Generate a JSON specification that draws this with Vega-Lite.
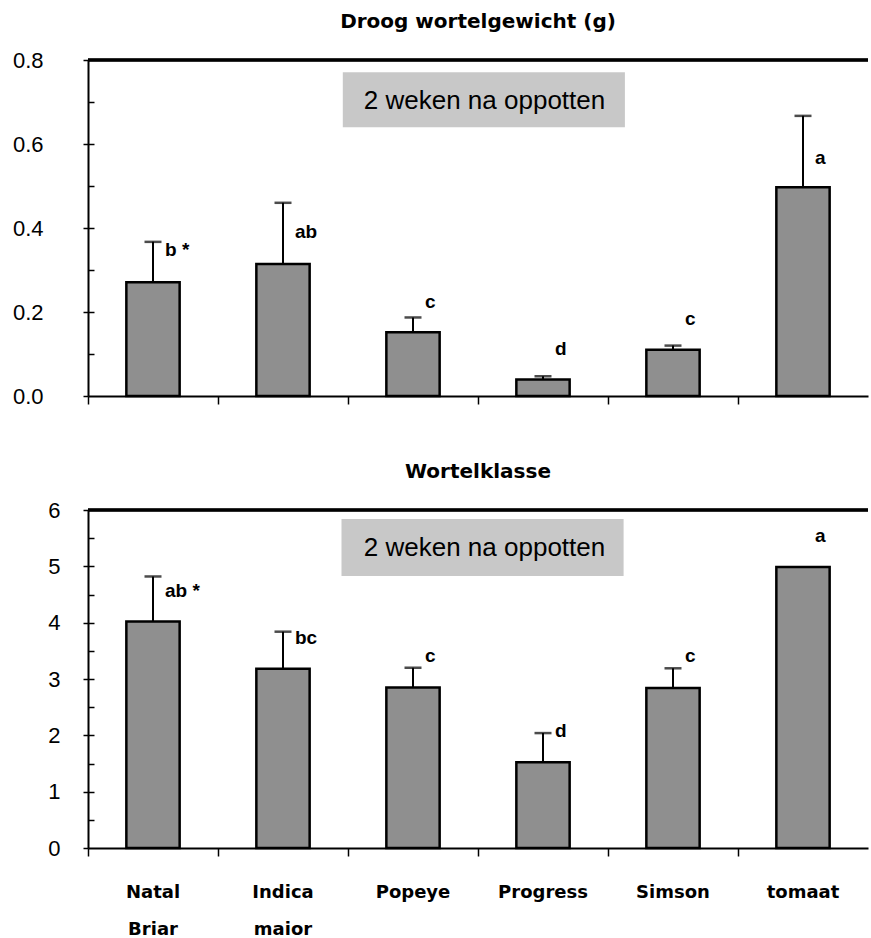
{
  "$schema": "https://vega.github.io/schema/vega-lite/v6.json",
  "padding": {"left": 12, "top": 12, "right": 0, "bottom": 0},
  "background": "white",
  "config": {
    "view": {"stroke": null},
    "font": "Liberation Sans",
    "axis": {"domainColor": "black", "tickColor": "black", "labelColor": "black", "grid": false, "domainWidth": 2, "tickWidth": 1.5, "titleColor": "black"},
    "title": {"color": "black"}
  },
  "datasets": {
    "weight": [
      {"cultivar": "Natal Briar", "value": 0.271, "err": 0.367, "letter": "b *", "labelPos": 0.348},
      {"cultivar": "Indica maior", "value": 0.314, "err": 0.46, "letter": "ab", "labelPos": 0.39},
      {"cultivar": "Popeye", "value": 0.152, "err": 0.187, "letter": "c", "labelPos": 0.224},
      {"cultivar": "Progress", "value": 0.039, "err": 0.047, "letter": "d", "labelPos": 0.112},
      {"cultivar": "Simson", "value": 0.11, "err": 0.12, "letter": "c", "labelPos": 0.183},
      {"cultivar": "tomaat", "value": 0.497, "err": 0.667, "letter": "a", "labelPos": 0.567}
    ],
    "klasse": [
      {"cultivar": "Natal Briar", "value": 4.02, "err": 4.82, "letter": "ab *", "labelPos": 4.56},
      {"cultivar": "Indica maior", "value": 3.18, "err": 3.84, "letter": "bc", "labelPos": 3.73},
      {"cultivar": "Popeye", "value": 2.85, "err": 3.2, "letter": "c", "labelPos": 3.41},
      {"cultivar": "Progress", "value": 1.52, "err": 2.04, "letter": "d", "labelPos": 2.08},
      {"cultivar": "Simson", "value": 2.84, "err": 3.19, "letter": "c", "labelPos": 3.41},
      {"cultivar": "tomaat", "value": 4.99, "err": null, "letter": "a", "labelPos": 5.54}
    ],
    "note": [{"note": "2 weken na oppotten"}]
  },
  "spacing": 55,
  "vconcat": [
    {
      "width": 780,
      "height": 336,
      "title": {"text": "Droog wortelgewicht (g)", "font": "DejaVu Sans", "fontSize": 20, "fontWeight": "bold", "offset": 17, "anchor": "middle"},
      "layer": [
        {
          "data": {"name": "weight"},
          "layer": [
            {
              "mark": {"type": "bar", "fill": "#8f8f8f", "stroke": "black", "strokeWidth": 2.5, "width": {"band": 0.41}},
              "encoding": {
                "x": {"field": "cultivar", "type": "nominal", "sort": null, "scale": {"paddingInner": 0, "paddingOuter": 0}, "axis": {"title": null, "labels": false, "bandPosition": 0, "tickSize": 8}},
                "y": {"field": "value", "type": "quantitative", "scale": {"domain": [0, 0.8], "nice": false}, "axis": {"title": null, "values": [0, 0.2, 0.4, 0.6, 0.8], "format": ".1f", "tickSize": 5, "labelPadding": 40, "labelFontSize": 22}}
              }
            },
            {
              "mark": {"type": "rule", "strokeWidth": 2, "color": "black"},
              "encoding": {
                "x": {"field": "cultivar", "type": "nominal", "sort": null},
                "y": {"field": "value", "type": "quantitative", "axis": null},
                "y2": {"field": "err"}
              }
            },
            {
              "mark": {"type": "tick", "orient": "horizontal", "size": 17, "thickness": 2.5, "color": "black"},
              "encoding": {
                "x": {"field": "cultivar", "type": "nominal", "sort": null},
                "y": {"field": "err", "type": "quantitative", "axis": null}
              }
            },
            {
              "mark": {"type": "text", "align": "left", "baseline": "middle", "dx": 12, "fontSize": 19, "fontWeight": "bold", "color": "black"},
              "encoding": {
                "x": {"field": "cultivar", "type": "nominal", "sort": null},
                "y": {"field": "labelPos", "type": "quantitative", "axis": null},
                "text": {"field": "letter"}
              }
            },
            {
              "mark": {"type": "rule", "strokeWidth": 2.5, "color": "black"},
              "encoding": {
                "y": {"datum": 0.8, "type": "quantitative", "axis": {"orient": "left", "title": null, "values": [0.1, 0.2, 0.3, 0.4, 0.5, 0.6, 0.7], "tickSize": -6, "labels": false, "domain": false}}
              }
            }
          ],
          "resolve": {"axis": {"y": "independent"}}
        },
        {
          "data": {"name": "note"},
          "layer": [
            {
              "mark": {"type": "rect", "fill": "#c8c8c8"},
              "encoding": {
                "x": {"datum": 1.96, "type": "quantitative", "scale": {"domain": [0, 6], "nice": false, "zero": false}, "axis": null},
                "x2": {"datum": 4.13},
                "y": {"datum": 0.64, "type": "quantitative", "axis": null},
                "y2": {"datum": 0.771}
              }
            },
            {
              "mark": {"type": "text", "fontSize": 26, "font": "Liberation Sans", "baseline": "middle", "color": "black"},
              "encoding": {
                "x": {"datum": 3.05, "type": "quantitative", "axis": null},
                "y": {"datum": 0.703, "type": "quantitative", "axis": null},
                "text": {"field": "note"}
              }
            }
          ]
        }
      ],
      "resolve": {"scale": {"x": "independent"}}
    },
    {
      "width": 780,
      "height": 338,
      "title": {"text": "Wortelklasse", "font": "DejaVu Sans", "fontSize": 20, "fontWeight": "bold", "offset": 17, "anchor": "middle"},
      "layer": [
        {
          "data": {"name": "klasse"},
          "layer": [
            {
              "mark": {"type": "bar", "fill": "#8f8f8f", "stroke": "black", "strokeWidth": 2.5, "width": {"band": 0.41}},
              "encoding": {
                "x": {"field": "cultivar", "type": "nominal", "sort": null, "scale": {"paddingInner": 0, "paddingOuter": 0}, "axis": {"title": null, "bandPosition": 0, "tickSize": 8, "labelPadding": 27, "labelFont": "DejaVu Sans", "labelFontWeight": "bold", "labelFontSize": 18, "labelLineHeight": 37, "labelExpr": "split(datum.label, ' ')", "labelAngle": 0}},
                "y": {"field": "value", "type": "quantitative", "scale": {"domain": [0, 6], "nice": false}, "axis": {"title": null, "values": [0, 1, 2, 3, 4, 5, 6], "format": "d", "tickSize": 5, "labelPadding": 23, "labelFontSize": 22}}
              }
            },
            {
              "transform": [{"filter": "datum.err != null"}],
              "mark": {"type": "rule", "strokeWidth": 2, "color": "black"},
              "encoding": {
                "x": {"field": "cultivar", "type": "nominal", "sort": null},
                "y": {"field": "value", "type": "quantitative", "axis": null},
                "y2": {"field": "err"}
              }
            },
            {
              "transform": [{"filter": "datum.err != null"}],
              "mark": {"type": "tick", "orient": "horizontal", "size": 17, "thickness": 2.5, "color": "black"},
              "encoding": {
                "x": {"field": "cultivar", "type": "nominal", "sort": null},
                "y": {"field": "err", "type": "quantitative", "axis": null}
              }
            },
            {
              "mark": {"type": "text", "align": "left", "baseline": "middle", "dx": 12, "fontSize": 19, "fontWeight": "bold", "color": "black"},
              "encoding": {
                "x": {"field": "cultivar", "type": "nominal", "sort": null},
                "y": {"field": "labelPos", "type": "quantitative", "axis": null},
                "text": {"field": "letter"}
              }
            },
            {
              "mark": {"type": "rule", "strokeWidth": 2.5, "color": "black"},
              "encoding": {
                "y": {"datum": 6, "type": "quantitative", "axis": {"orient": "left", "title": null, "values": [0.5, 1, 1.5, 2, 2.5, 3, 3.5, 4, 4.5, 5, 5.5], "tickSize": -6, "labels": false, "domain": false}}
              }
            }
          ],
          "resolve": {"axis": {"y": "independent"}}
        },
        {
          "data": {"name": "note"},
          "layer": [
            {
              "mark": {"type": "rect", "fill": "#c8c8c8"},
              "encoding": {
                "x": {"datum": 1.95, "type": "quantitative", "scale": {"domain": [0, 6], "nice": false, "zero": false}, "axis": null},
                "x2": {"datum": 4.12},
                "y": {"datum": 4.83, "type": "quantitative", "axis": null},
                "y2": {"datum": 5.84}
              }
            },
            {
              "mark": {"type": "text", "fontSize": 26, "font": "Liberation Sans", "baseline": "middle", "color": "black"},
              "encoding": {
                "x": {"datum": 3.05, "type": "quantitative", "axis": null},
                "y": {"datum": 5.33, "type": "quantitative", "axis": null},
                "text": {"field": "note"}
              }
            }
          ]
        }
      ],
      "resolve": {"scale": {"x": "independent"}}
    }
  ]
}
